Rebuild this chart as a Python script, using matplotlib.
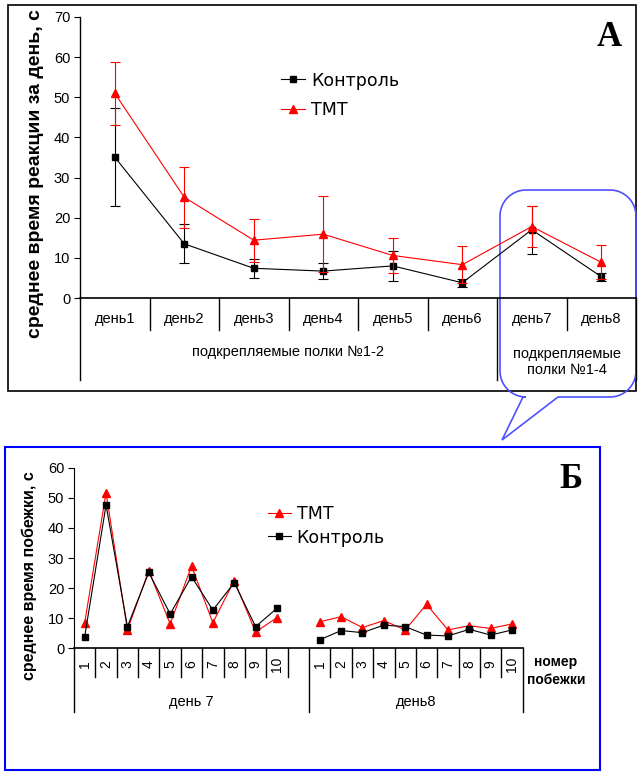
import numpy as np
import matplotlib
matplotlib.use("Agg")
import matplotlib.pyplot as plt
from matplotlib.path import Path
from matplotlib.patches import PathPatch, Rectangle

plt.rcParams['font.family'] = ['Liberation Sans', 'DejaVu Sans']

W, H = 643, 776

# panel A: mean reaction time per day
days = ['день1', 'день2', 'день3', 'день4', 'день5', 'день6', 'день7', 'день8']
control_mean = [35.1, 13.5, 7.4, 6.7, 8.0, 3.8, 17.0, 5.3]
control_err = [12.2, 4.9, 2.3, 2.0, 3.7, 1.0, 6.0, 1.0]
tmt_mean = [51.0, 25.1, 14.4, 15.9, 10.6, 8.3, 17.8, 8.9]
tmt_err = [7.9, 7.6, 5.4, 9.4, 4.3, 4.6, 5.1, 4.2]
groups_a = ['подкрепляемые полки №1-2', 'подкрепляемые\nполки №1-4']

# panel B: mean run time per run, days 7 and 8
runs = [str(i) for i in range(1, 11)]
tmt_d7 = [8.5, 51.7, 6.1, 25.8, 8.1, 27.3, 8.5, 22.5, 5.4, 10.2]
ctrl_d7 = [3.9, 47.6, 7.2, 25.2, 11.4, 23.8, 12.7, 21.8, 7.2, 13.3]
tmt_d8 = [8.8, 10.5, 6.9, 9.2, 6.1, 14.6, 6.1, 7.5, 6.6, 8.1]
ctrl_d8 = [2.8, 5.9, 5.2, 7.7, 7.2, 4.4, 4.1, 6.3, 4.4, 6.1]
groups_b = ['день 7', 'день8']


def px_rect(x0, y0, x1, y1):
    return [x0 / W, 1 - y1 / H, (x1 - x0) / W, (y1 - y0) / H]


def fy(y):
    return 1 - y / H


fig = plt.figure(figsize=(W / 100, H / 100), dpi=100)

# ---------- panel A ----------
ax1 = fig.add_axes(px_rect(80, 17, 636, 298))
ax1.patch.set_visible(False)
xa = np.arange(len(days))
ax1.errorbar(xa, control_mean, yerr=control_err, fmt='none', ecolor='black',
             capsize=3.5, elinewidth=0.8, capthick=0.8, zorder=3)
ax1.errorbar(xa, tmt_mean, yerr=tmt_err, fmt='none', ecolor='red',
             capsize=3.5, elinewidth=0.8, capthick=0.8, zorder=4)
ax1.plot(xa, control_mean, color='black', lw=0.8, marker='s', ms=5,
         label='Контроль', zorder=3)
ax1.plot(xa, tmt_mean, color='red', lw=0.8, marker='^', ms=6,
         label='ТМТ', zorder=4)
ax1.set_xlim(-0.5, len(days) - 0.5)
ax1.set_ylim(0, 70)
ax1.set_yticks(range(0, 71, 10))
ax1.set_xticks(xa)
ax1.set_xticklabels(days, fontsize=10.5)
ax1.tick_params(axis='x', length=0, pad=10)
ax1.tick_params(axis='y', direction='out', length=4, labelsize=10.5, pad=3)
for s in ['top', 'right']:
    ax1.spines[s].set_visible(False)
ax1.spines['bottom'].set_linewidth(1.2)
ax1.spines['left'].set_linewidth(1.0)

tr = ax1.get_xaxis_transform()
h1 = 281.0
short_a = (298 - 330) / h1
long_a = (298 - 380) / h1
for k in range(len(days) + 1):
    bottom = long_a if k in (0, 6, 8) else short_a
    ax1.plot([k - 0.5, k - 0.5], [0, bottom], color='black', lw=1.0,
             transform=tr, clip_on=False)
ax1.text(2.5, (298 - 352) / h1, groups_a[0], transform=tr, ha='center',
         va='center', fontsize=10.5)
ax1.text(6.5, (298 - 362) / h1, groups_a[1], transform=tr, ha='center',
         va='center', fontsize=10.5, linespacing=1.25)

ax1.legend(loc='upper left', bbox_to_anchor=(281 / W, fy(71.5)),
           bbox_transform=fig.transFigure, frameon=False,
           prop={'family': 'DejaVu Sans', 'size': 12.5},
           handlelength=1.38, handletextpad=0.35, labelspacing=0.66,
           borderpad=0, borderaxespad=0, numpoints=1)

fig.text(36 / W, fy(174), 'среднее время реакции за день, с', rotation=90,
         ha='center', va='center', fontsize=14, fontweight='bold')
fig.text(609 / W, fy(37), 'А', ha='center', va='center', fontsize=25,
         fontweight='bold', family='Liberation Serif')

# ---------- panel B ----------
ax2 = fig.add_axes(px_rect(74, 467.7, 522.7, 648.3))
ax2.patch.set_visible(False)
x7 = np.arange(10)
x8 = np.arange(11, 21)
ax2.plot(x7, tmt_d7, color='red', lw=0.8, marker='^', ms=6, label='ТМТ')
ax2.plot(x8, tmt_d8, color='red', lw=0.8, marker='^', ms=6)
ax2.plot(x7, ctrl_d7, color='black', lw=0.8, marker='s', ms=5,
         label='Контроль')
ax2.plot(x8, ctrl_d8, color='black', lw=0.8, marker='s', ms=5)
ax2.set_xlim(-0.5, 20.5)
ax2.set_ylim(0, 60)
ax2.set_yticks(range(0, 61, 10))
ax2.tick_params(axis='y', direction='out', length=4, labelsize=10.5, pad=3)
ax2.set_xticks([])
for s in ['top', 'right']:
    ax2.spines[s].set_visible(False)
ax2.spines['bottom'].set_linewidth(1.2)

tr2 = ax2.get_xaxis_transform()
h2 = 648.3 - 467.7
short_b = (648.3 - 677) / h2
long_b = (648.3 - 712) / h2
for k in range(22):
    bottom = long_b if k in (0, 11, 21) else short_b
    ax2.plot([k - 0.5, k - 0.5], [0, bottom], color='black', lw=1.0,
             transform=tr2, clip_on=False)
lab_y = (648.3 - 664) / h2
for xs in (x7, x8):
    for x, r in zip(xs, runs):
        ax2.text(x, lab_y, r, transform=tr2, rotation=90, ha='center',
                 va='center', fontsize=10)
ax2.text(5, (648.3 - 702) / h2, groups_b[0], transform=tr2, ha='center',
         va='center', fontsize=10.5)
ax2.text(15.5, (648.3 - 702) / h2, groups_b[1], transform=tr2, ha='center',
         va='center', fontsize=10.5)
fig.text(556 / W, fy(671), 'номер\nпобежки', ha='center', va='center',
         fontsize=10, fontweight='bold', linespacing=1.3)

ax2.legend(loc='upper left', bbox_to_anchor=(268 / W, fy(505)),
           bbox_transform=fig.transFigure, frameon=False,
           prop={'family': 'DejaVu Sans', 'size': 12.5},
           handlelength=1.3, handletextpad=0.35, labelspacing=0.32,
           borderpad=0, borderaxespad=0, numpoints=1)

fig.text(29 / W, fy(576), 'среднее время побежки, с', rotation=90,
         ha='center', va='center', fontsize=11.5, fontweight='bold')
fig.text(571 / W, fy(480), 'Б', ha='center', va='center', fontsize=25,
         fontweight='bold', family='Liberation Serif')

# ---------- frames and callout ----------
ov = fig.add_axes([0, 0, 1, 1], zorder=-1)
ov.set_xlim(0, W)
ov.set_ylim(H, 0)
ov.axis('off')
ov.add_patch(Rectangle((8, 5), 628, 386, fill=False, ec='black', lw=1.2))
ov.add_patch(Rectangle((5, 447), 595, 323, fill=False, ec='#0000ff', lw=1.5))


def arc(cx, cy, r, a0, a1, n=16):
    t = np.radians(np.linspace(a0, a1, n))
    return list(zip(cx + r * np.cos(t), cy + r * np.sin(t)))


bx0, bx1, by0, by1, r = 500, 636, 190, 397, 26
pts = [(523, by1), (502, 440), (558, by1), (bx1 - r, by1)]
pts += arc(bx1 - r, by1 - r, r, 90, 0)
pts += [(bx1, by0 + r)]
pts += arc(bx1 - r, by0 + r, r, 0, -90)
pts += [(bx0 + r, by0)]
pts += arc(bx0 + r, by0 + r, r, -90, -180)
pts += [(bx0, by1 - r)]
pts += arc(bx0 + r, by1 - r, r, 180, 90)
pts += [(523, by1)]
ov.add_patch(PathPatch(Path(pts), fill=False, ec='#5050ff', lw=1.2))

fig.savefig('out.png', dpi=100)
